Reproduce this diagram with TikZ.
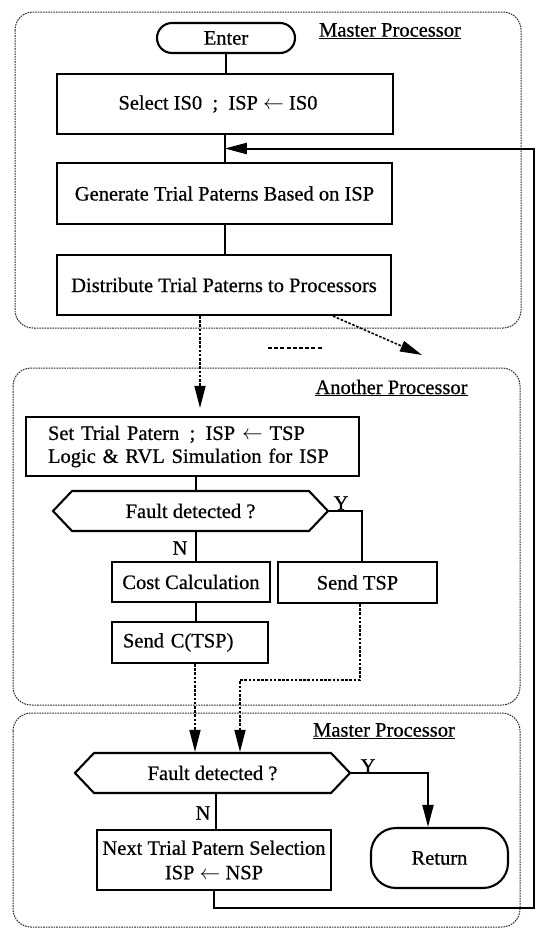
\documentclass[tikz,border=0pt]{standalone}
\usepackage{fontspec}
\setmainfont{Liberation Serif}[FakeBold=0.6]
\usetikzlibrary{arrows.meta,shapes.symbols,calc}

\begin{document}
\begin{tikzpicture}[x=1pt,y=-1pt,
  every node/.style={font=\fontsize{20.5}{23}\selectfont, inner sep=0pt},
  procbox/.style={draw, line width=2.1pt, minimum width=#1},
  termbox/.style={draw, line width=2.1pt, rounded corners=#1},
  decision/.style={draw, line width=2.1pt, signal, signal to=west and east,
    signal pointer angle=93, minimum width=275pt, minimum height=40pt},
  panel/.style={draw=black!85, line width=1pt, dash pattern=on 1.6pt off 1pt, rounded corners=18pt},
  flow/.style={line width=2pt},
  flowarrow/.style={line width=2pt, -{Triangle[length=22pt,width=11pt]}},
  msgarrow/.style={line width=1.6pt, dash pattern=on 2.6pt off 1.6pt, -{Triangle[length=22pt,width=11pt]}},
  msgline/.style={line width=1.6pt, dash pattern=on 2.6pt off 1.6pt},
  tag/.style={font=\fontsize{20.5}{23}\selectfont}
]
\useasboundingbox (0,0) rectangle (536,930);

% processor panels
\draw[panel] (15,12) rectangle (521,328);
\draw[panel] (13,368) rectangle (520,705);
\draw[panel] (13,713) rectangle (520,927);

% ---------- master processor: set-up ----------
\node[termbox=15pt, minimum width=138pt, minimum height=30pt] (enter) at (226,38) {Enter};
\node[tag] (title1) at (390,31) {\underline{Master Processor}};
\node[procbox=336pt, minimum height=60pt] (select) at (225,104) {Select IS0\enspace;\enspace ISP $\leftarrow$ IS0\hspace*{14pt}};
\node[procbox=335pt, minimum height=61pt] (generate) at (224.5,193.5) {Generate Trial Paterns Based on ISP};
\node[procbox=334pt, minimum height=60pt] (distribute) at (224,285) {Distribute Trial Paterns to Processors};

\draw[flow] (enter.south) -- (enter.south |- select.north);
\draw[flow] (select.south) -- (select.south |- generate.north);
\draw[flow] (generate.south) -- (generate.south |- distribute.north);
\coordinate (join) at ($(select.south)!0.5!(generate.north)$);

% ---------- another processor ----------
\node[tag] (title2) at (391.5,388) {\underline{Another Processor}};
\node[draw, line width=2.1pt, minimum height=59pt, inner xsep=22pt, text width=289pt, align=left]
  (settrial) at (192.5,446.5) {Set Trial Patern\enspace;\enspace ISP $\leftarrow$ TSP\\Logic \& RVL Simulation for ISP};
\node[decision] (fault1) at (190.5,511) {Fault detected ?};
\node[procbox=158pt, minimum height=40pt] (cost) at (191,582) {Cost Calculation};
\node[procbox=159pt, minimum height=41pt] (sendtsp) at (357.5,582.5) {Send TSP};
\node[draw, line width=2.1pt, minimum height=41pt, inner xsep=11pt, text width=134pt, align=left]
  (sendc) at (190,642.5) {Send C(TSP)};
\node[tag] (y1) at (341,503) {Y};
\node[tag] (n1) at (180,548) {N};

\coordinate (stemA) at (196,0);
\coordinate (stemY) at (362,0);
\draw[flow] (settrial.south -| stemA) -- (fault1.north -| stemA);
\draw[flow] (fault1.south -| stemA) -- (cost.north -| stemA);
\draw[flow] (cost.south -| stemA) -- (sendc.north -| stemA);
\draw[flow] (fault1.east) -| (stemY |- sendtsp.north);

% messages from the master
\coordinate (distx) at (200,0);
\coordinate (diagfrom) at (333,0);
\coordinate (diagto) at (422,355);
\coordinate (moreL) at (268,348);
\coordinate (moreR) at (322,348);
\draw[msgarrow, shorten >=8pt] (distribute.south -| distx) -- (settrial.north -| distx);
\draw[msgarrow] (distribute.south -| diagfrom) -- (diagto);
\draw[msgline, dash pattern=on 4pt off 2.2pt, line width=1.3pt] (moreL) -- (moreR);

% ---------- master processor: evaluation ----------
\node[tag] (title3) at (384,731) {\underline{Master Processor}};
\node[decision] (fault2) at (212.5,773) {Fault detected ?};
\node[procbox=234pt, minimum height=60pt, align=center, font=\fontsize{20.5}{24.5}\selectfont] (next) at (214,860)
  {Next Trial Patern Selection\\ISP $\leftarrow$ NSP};
\node[termbox=25pt, minimum width=137pt, minimum height=60pt] (return) at (439.5,858) {Return};
\node[tag] (y2) at (368,766) {Y};
\node[tag] (n2) at (203,813) {N};

% replies to the master
\coordinate (replyC) at (195,0);
\coordinate (bendR) at (360,680);
\coordinate (bendL) at (240,680);
\draw[msgarrow] (sendc.south -| replyC) -- (fault2.north -| replyC);
\draw[msgarrow] (sendtsp.south -| bendR) -- (bendR) -- (bendL) -- (bendL |- fault2.north);

\coordinate (retx) at (428,0);
\coordinate (stemB) at (216,0);
\draw[flowarrow] (fault2.east) -| (retx |- return.north);
\draw[flow] (fault2.south -| stemB) -- (next.north -| stemB);

% loop back to trial pattern generation
\coordinate (loopR) at (534,908);
\draw[flowarrow] (next.south) |- (loopR) |- (join);
\end{tikzpicture}
\end{document}
